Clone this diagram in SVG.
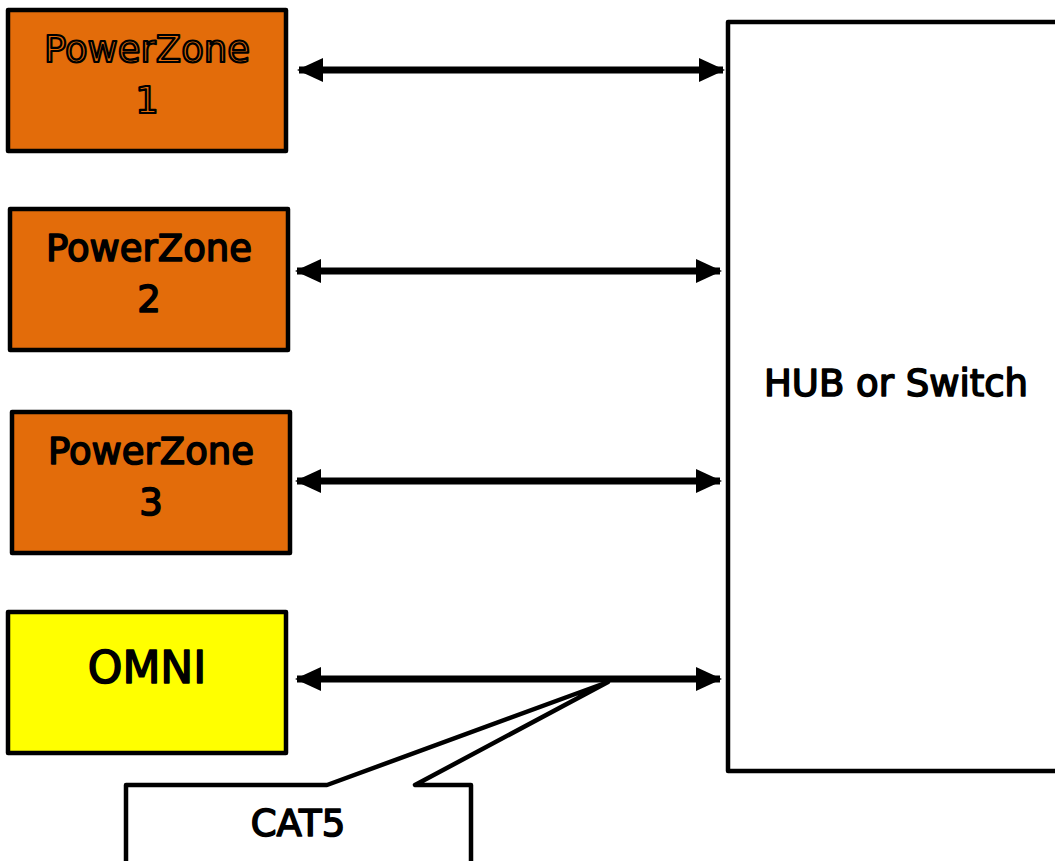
<svg xmlns="http://www.w3.org/2000/svg" width="1055" height="861" viewBox="0 0 1055 861">
<style>
.box{stroke:#000;stroke-width:4.5;stroke-linejoin:round}
.pz{fill:#E36C0A}
.om{fill:#FFFF00}
.wh{fill:#fff}
.t{font-family:"DejaVu Sans",Verdana,sans-serif;font-size:37px;fill:#000;stroke:#000;stroke-width:1.6;stroke-linejoin:round;text-anchor:middle}
.ol{fill:#E36C0A;stroke:#000;stroke-width:2.2}
.conn{stroke:#000;stroke-width:7;fill:none}
</style>
<defs>
<marker id="ah" viewBox="0 0 26 24" refX="24" refY="12" markerWidth="26" markerHeight="24" markerUnits="userSpaceOnUse" orient="auto-start-reverse">
<path d="M0,0 L26,12 L0,24 Z" fill="#000"/>
</marker>
</defs>
<g id="hub">
<rect class="box wh" x="728" y="22" width="340" height="749"/>
<text class="t" x="896" y="396">HUB or Switch</text>
</g>
<g id="pz1">
<rect class="box pz" x="8" y="10" width="278" height="141"/>
<text class="t ol" x="147" y="62">PowerZone</text>
<text class="t ol" x="147" y="113">1</text>
</g>
<g id="pz2">
<rect class="box pz" x="10" y="209" width="278" height="141"/>
<text class="t" x="149" y="261">PowerZone</text>
<text class="t" x="149" y="312">2</text>
</g>
<g id="pz3">
<rect class="box pz" x="12" y="412" width="278" height="141"/>
<text class="t" x="151" y="464">PowerZone</text>
<text class="t" x="151" y="515">3</text>
</g>
<g id="omni">
<rect class="box om" x="8" y="612" width="278" height="141"/>
<text class="t" x="147" y="683" style="font-size:44px">OMNI</text>
</g>
<g id="cat5">
<path class="box wh" d="M126,866 V785 H327 L608,682 L415,785 H471 V866"/>
<text class="t" x="298" y="836">CAT5</text>
</g>
<g id="connectors">
<line class="conn" x1="299" y1="70" x2="723" y2="70" marker-start="url(#ah)" marker-end="url(#ah)"/>
<line class="conn" x1="297" y1="271" x2="720" y2="271" marker-start="url(#ah)" marker-end="url(#ah)"/>
<line class="conn" x1="297" y1="481" x2="720" y2="481" marker-start="url(#ah)" marker-end="url(#ah)"/>
<line class="conn" x1="297" y1="679" x2="720" y2="679" marker-start="url(#ah)" marker-end="url(#ah)"/>
</g>
</svg>
